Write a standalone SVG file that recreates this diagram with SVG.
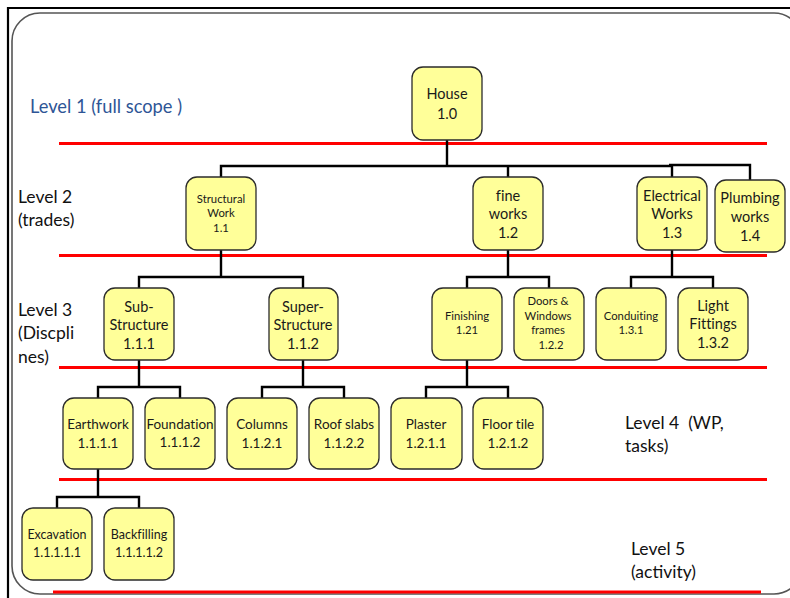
<svg xmlns="http://www.w3.org/2000/svg" width="790" height="598" viewBox="0 0 790 598">
  <style>
    .frame { fill: none; stroke: #000; stroke-width: 2.2; }
    .panel { fill: #fff; stroke: #555; stroke-width: 1.6; }
    .level { stroke: #ff0000; stroke-width: 3; }
    .node rect { fill: #ffff99; stroke: #2b2b2b; stroke-width: 1.3; }
    .node text { font-family: Lato, "Open Sans", sans-serif; fill: #1a1a1a; text-anchor: middle; font-variant-ligatures: none; }
    .t15 { font-size: 14.5px; }
    .t14 { font-size: 13.5px; }
    .t13 { font-size: 12.5px; }
    .t11 { font-size: 11.3px; }
    .lbl { font-family: Lato, "Open Sans", sans-serif; font-size: 17.5px; fill: #111; white-space: pre; }
    .lbl1 { fill: #2e5596; font-size: 18.3px; }
    .conn path { fill: none; stroke: #000; stroke-width: 2.4; }
  </style>

  <!-- slide frame -->
  <path class="frame" d="M8,598 V8 H790"/>
  <rect class="panel" x="12" y="13" width="790" height="581" rx="28" ry="28"/>

  <!-- level separators -->
  <g id="levels">
    <line class="level" x1="59" y1="143.5" x2="767" y2="143.5"/>
    <line class="level" x1="59" y1="255.5" x2="767" y2="255.5"/>
    <line class="level" x1="59" y1="367.5" x2="767" y2="367.5"/>
    <line class="level" x1="59" y1="479.5" x2="767" y2="479.5"/>
    <line class="level" x1="53" y1="592" x2="761" y2="592"/>
  </g>

  <!-- level captions -->
  <g id="captions">
    <text class="lbl lbl1" x="30" y="113">Level 1 (full scope )</text>
    <text class="lbl" x="18" y="203">Level 2</text>
    <text class="lbl" x="18" y="226">(trades)</text>
    <text class="lbl" x="18" y="316">Level 3</text>
    <text class="lbl" x="18" y="339">(Discpli</text>
    <text class="lbl" x="18" y="363">nes)</text>
    <text class="lbl" x="625" y="429" xml:space="preserve">Level 4  (WP,</text>
    <text class="lbl" x="625" y="452">tasks)</text>
    <text class="lbl" x="631" y="555">Level 5</text>
    <text class="lbl" x="631" y="578">(activity)</text>
  </g>

  <!-- connectors -->
  <g id="connectors" class="conn">
    <path d="M447,140 V166 M221,177 V166 H672 M508,166 V177 M672,166 V177 M669,165 H750 V180"/>
    <path d="M221,250 V277 M139,288 V277 H303 V288"/>
    <path d="M508,250 V277 M467,288 V277 H549 V288"/>
    <path d="M672,250 V277 M631,288 V277 H713 V288"/>
    <path d="M139,360 V387 M98,398 V387 H180 V398"/>
    <path d="M303,360 V387 M262,398 V387 H344 V398"/>
    <path d="M467,360 V387 M426,398 V387 H508 V398"/>
    <path d="M98,469 V497 M57,508 V497 H139 V508"/>
  </g>

  <!-- level 1 -->
  <g id="n-1-0" class="node">
    <rect x="412" y="67" width="70" height="73" rx="11"/>
    <text class="t15" x="447" y="99">House</text>
    <text class="t15" x="447" y="119">1.0</text>
  </g>

  <!-- level 2 -->
  <g id="n-1-1" class="node">
    <rect x="186" y="177" width="70" height="73" rx="11"/>
    <text class="t11" x="221" y="203">Structural</text>
    <text class="t11" x="221" y="217">Work</text>
    <text class="t11" x="221" y="232">1.1</text>
  </g>
  <g id="n-1-2" class="node">
    <rect x="473" y="177" width="70" height="73" rx="11"/>
    <text class="t15" x="508" y="201">fine</text>
    <text class="t15" x="508" y="219">works</text>
    <text class="t15" x="508" y="238">1.2</text>
  </g>
  <g id="n-1-3" class="node">
    <rect x="637" y="177" width="70" height="73" rx="11"/>
    <text class="t15" x="672" y="201">Electrical</text>
    <text class="t15" x="672" y="219">Works</text>
    <text class="t15" x="672" y="238">1.3</text>
  </g>
  <g id="n-1-4" class="node">
    <rect x="715" y="180" width="70" height="72" rx="11"/>
    <text class="t15" x="750" y="203">Plumbing</text>
    <text class="t15" x="750" y="222">works</text>
    <text class="t15" x="750" y="241">1.4</text>
  </g>

  <!-- level 3 -->
  <g id="n-1-1-1" class="node">
    <rect x="104" y="288" width="70" height="72" rx="11"/>
    <text class="t15" x="139" y="312">Sub-</text>
    <text class="t15" x="139" y="330">Structure</text>
    <text class="t15" x="139" y="349">1.1.1</text>
  </g>
  <g id="n-1-1-2" class="node">
    <rect x="269" y="288" width="69" height="72" rx="11"/>
    <text class="t15" x="303" y="312">Super-</text>
    <text class="t15" x="303" y="330">Structure</text>
    <text class="t15" x="303" y="349">1.1.2</text>
  </g>
  <g id="n-1-21" class="node">
    <rect x="432" y="288" width="70" height="72" rx="11"/>
    <text class="t11" x="467" y="320">Finishing</text>
    <text class="t11" x="467" y="334">1.21</text>
  </g>
  <g id="n-1-2-2" class="node">
    <rect x="514" y="288" width="70" height="72" rx="11"/>
    <text class="t11" x="548" y="305">Doors &amp;</text>
    <text class="t11" x="548" y="320">Windows</text>
    <text class="t11" x="548" y="334">frames</text>
    <text class="t11" x="551" y="349">1.2.2</text>
  </g>
  <g id="n-1-3-1" class="node">
    <rect x="596" y="288" width="70" height="72" rx="11"/>
    <text class="t11" x="631" y="320">Conduiting</text>
    <text class="t11" x="631" y="334">1.3.1</text>
  </g>
  <g id="n-1-3-2" class="node">
    <rect x="678" y="288" width="70" height="72" rx="11"/>
    <text class="t15" x="713" y="311">Light</text>
    <text class="t15" x="713" y="329">Fittings</text>
    <text class="t15" x="713" y="348">1.3.2</text>
  </g>

  <!-- level 4 -->
  <g id="n-1-1-1-1" class="node">
    <rect x="63" y="398" width="70" height="71" rx="11"/>
    <text class="t14" x="98" y="429">Earthwork</text>
    <text class="t14" x="98" y="448">1.1.1.1</text>
  </g>
  <g id="n-1-1-1-2" class="node">
    <rect x="145" y="398" width="70" height="71" rx="11"/>
    <text class="t14" x="180" y="429">Foundation</text>
    <text class="t14" x="180" y="447">1.1.1.2</text>
  </g>
  <g id="n-1-1-2-1" class="node">
    <rect x="227" y="398" width="70" height="71" rx="11"/>
    <text class="t14" x="262" y="429">Columns</text>
    <text class="t14" x="262" y="448">1.1.2.1</text>
  </g>
  <g id="n-1-1-2-2" class="node">
    <rect x="309" y="398" width="70" height="71" rx="11"/>
    <text class="t14" x="344" y="429">Roof slabs</text>
    <text class="t14" x="344" y="448">1.1.2.2</text>
  </g>
  <g id="n-1-2-1-1" class="node">
    <rect x="391" y="398" width="71" height="71" rx="11"/>
    <text class="t14" x="426" y="429">Plaster</text>
    <text class="t14" x="426" y="448">1.2.1.1</text>
  </g>
  <g id="n-1-2-1-2" class="node">
    <rect x="473" y="398" width="70" height="71" rx="11"/>
    <text class="t14" x="508" y="429">Floor tile</text>
    <text class="t14" x="508" y="448">1.2.1.2</text>
  </g>

  <!-- level 5 -->
  <g id="n-1-1-1-1-1" class="node">
    <rect x="22" y="508" width="70" height="72" rx="11"/>
    <text class="t13" x="57" y="539">Excavation</text>
    <text class="t13" x="57" y="557">1.1.1.1.1</text>
  </g>
  <g id="n-1-1-1-1-2" class="node">
    <rect x="104" y="508" width="70" height="72" rx="11"/>
    <text class="t13" x="139" y="539">Backfilling</text>
    <text class="t13" x="139" y="557">1.1.1.1.2</text>
  </g>
</svg>
